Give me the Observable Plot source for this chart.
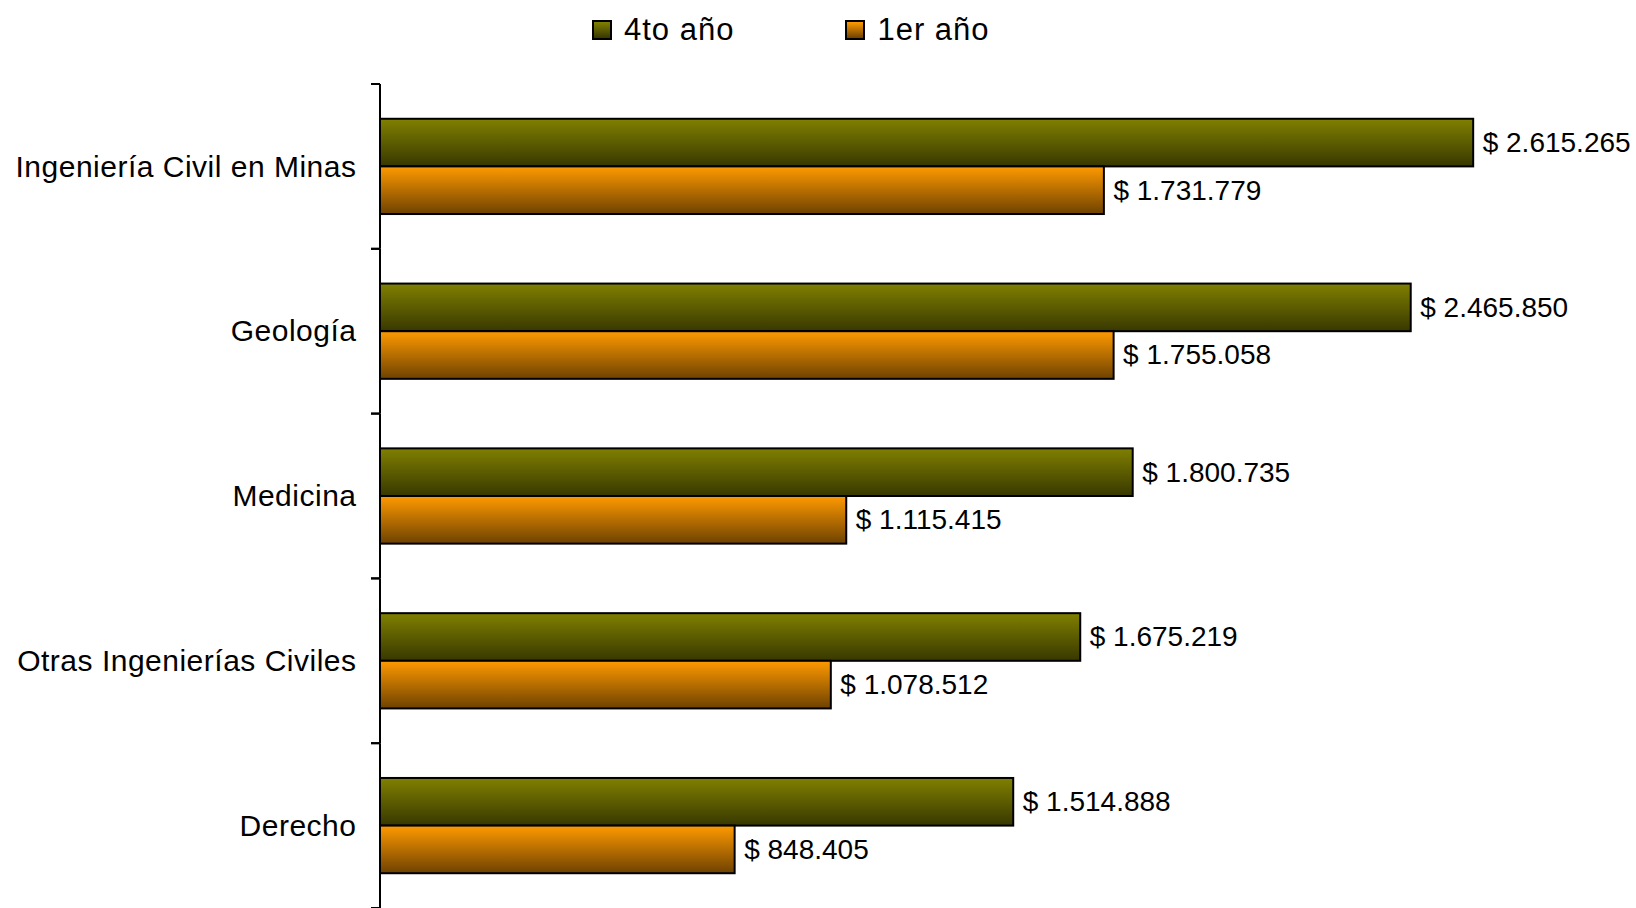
<!DOCTYPE html>
<html>
<head>
<meta charset="utf-8">
<script src="https://cdn.jsdelivr.net/npm/d3@7"></script>
<script src="https://cdn.jsdelivr.net/npm/@observablehq/plot@0.6"></script>
<style>
  html, body { margin: 0; padding: 0; background: #fff; overflow: hidden; }
  body { font-family: "Liberation Sans", Arial, sans-serif; width: 1636px; }
  #legend { height: 60px; display: flex; align-items: center; padding-left: 592px; box-sizing: border-box; }
  .item { display: flex; align-items: center; font-size: 31px; letter-spacing: 1px; color: #000; }
  .item + .item { margin-left: 111px; }
  .sw { width: 16px; height: 16px; border: 2px solid #000; margin-right: 12px; }
  #chart svg { display: block; max-width: none !important; }
  #chart svg g[aria-label="fy-axis tick label"] text { letter-spacing: 0.5px; }
</style>
</head>
<body>
<div id="legend"></div>
<div id="chart"></div>
<script>
const categories = ["Ingeniería Civil en Minas", "Geología", "Medicina", "Otras Ingenierías Civiles", "Derecho"];
const series = ["4to año", "1er año"];
const cuartoAnio = [2615265, 2465850, 1800735, 1675219, 1514888];
const primerAnio = [1731779, 1755058, 1115415, 1078512, 848405];
const gradients = [
  {id: "gOlive", top: "#808000", bottom: "#383800"},
  {id: "gOrange", top: "#ff9a00", bottom: "#6e4200"}
];

const data = [];
categories.forEach((c, i) => {
  data.push({category: c, series: series[0], value: cuartoAnio[i]});
  data.push({category: c, series: series[1], value: primerAnio[i]});
});

const fmt = d3.formatLocale({decimal: ",", thousands: ".", grouping: [3], currency: ["$ ", ""]}).format("$,");

// Axis line + ticks at category boundaries (drawn per facet)
function boundaryAxis(index, scales, values, dimensions) {
  const {marginTop, marginBottom, height} = dimensions;
  const x0 = scales.x(0);
  const g = d3.create("svg:g").attr("stroke", "#000").attr("stroke-width", 2);
  const y1 = marginTop, y2 = height - marginBottom;
  g.append("line").attr("x1", x0).attr("x2", x0).attr("y1", y1).attr("y2", y2);
  for (const yy of [y1, y2]) g.append("line").attr("x1", x0 - 9).attr("x2", x0).attr("y1", yy).attr("y2", yy);
  return g.node();
}

const chart = Plot.plot({
  width: 1636,
  height: 848,
  marginTop: 24,
  marginBottom: 0,
  marginLeft: 380,
  marginRight: 2,
  style: {fontFamily: "Liberation Sans, Arial, sans-serif", background: "#fff", overflow: "visible"},
  x: {domain: [0, 3000000], axis: null},
  y: {domain: series, paddingInner: 0, paddingOuter: 0.73, round: false, axis: null},
  fy: {domain: categories, padding: 0, round: false},
  color: {domain: series, range: gradients.map(g => `url(#${g.id})`)},
  marks: [
    Plot.barX(data, {x: "value", y: "series", fy: "category", fill: "series", stroke: "#000", strokeWidth: 2}),
    Plot.text(data, {x: "value", y: "series", fy: "category", text: d => fmt(d.value), textAnchor: "start", dx: 9, fontSize: 28, fill: "#000"}),
    boundaryAxis,
    Plot.axisFy({anchor: "left", label: null, tickSize: 0, tickPadding: 24, fontSize: 30, fill: "#000"})
  ]
});

// gradient definitions
const svgSel = d3.select(chart.tagName.toLowerCase() === "svg" ? chart : chart.querySelector("svg"));
const defs = svgSel.insert("defs", ":first-child");
for (const g of gradients) {
  const lg = defs.append("linearGradient").attr("id", g.id).attr("x1", 0).attr("y1", 0).attr("x2", 0).attr("y2", 1);
  lg.append("stop").attr("offset", "0%").attr("stop-color", g.top);
  lg.append("stop").attr("offset", "100%").attr("stop-color", g.bottom);
}
document.getElementById("chart").appendChild(chart);

// legend
const legend = d3.select("#legend");
series.forEach((s, i) => {
  const it = legend.append("div").attr("class", "item");
  it.append("div").attr("class", "sw")
    .style("background", `linear-gradient(${gradients[i].top}, ${gradients[i].bottom})`);
  it.append("span").text(s);
});
</script>
</body>
</html>
